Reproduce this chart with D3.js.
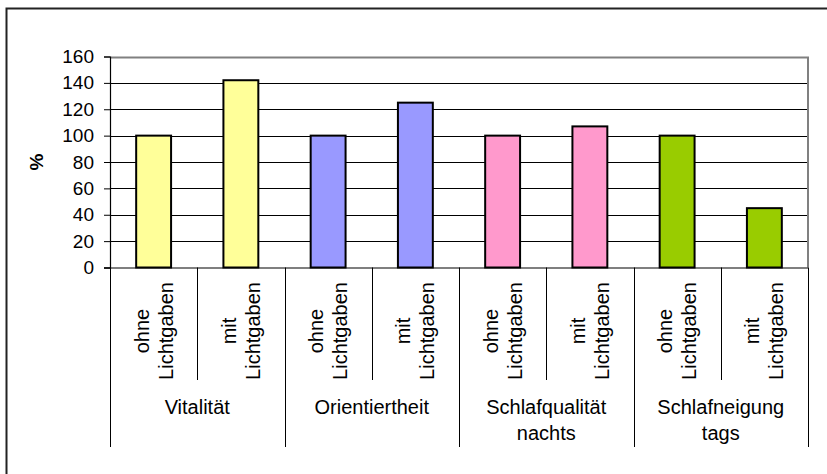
<!DOCTYPE html>
<html>
<head>
<meta charset="utf-8">
<script src="https://cdn.jsdelivr.net/npm/d3@7/dist/d3.min.js"></script>
<style>
  html, body { margin: 0; padding: 0; background: #fff; }
  svg { display: block; font-family: Arial, "Liberation Sans", sans-serif; }
</style>
</head>
<body>
<svg id="chart" width="827" height="474"></svg>
<script>
// ---- data ----
const groups = ["Vitalität", "Orientiertheit", "Schlafqualität\nnachts", "Schlafneigung\ntags"];
const conditions = ["ohne\nLichtgaben", "mit\nLichtgaben"];
const values = [100, 142, 100, 125, 100, 107, 100, 45];
const groupColors = ["#FFFF99", "#9999FF", "#FF99CC", "#99CC00"];
const yTicks = [0, 20, 40, 60, 80, 100, 120, 140, 160];
const yLabel = "%";

// ---- layout ----
const svg = d3.select("#chart");
const plotLeft = 110, plotRight = 808, plotTop = 56.5, plotBottom = 267.5;

const cats = [];
groups.forEach((g, gi) => conditions.forEach((c, ci) => cats.push({ key: gi + "-" + ci, g: gi, c: c })));

const slot = d3.scaleBand().domain(cats.map(d => d.key)).range([plotLeft, plotRight]).padding(0);
const x = d3.scaleBand().domain(cats.map(d => d.key)).range([plotLeft, plotRight]).paddingInner(0.6).paddingOuter(0.3);
const y = d3.scaleLinear().domain([0, 160]).range([plotBottom, plotTop]);

// outer frame (partially visible)
svg.append("path").attr("d", "M6.5,480 V8.5 H830").attr("fill", "none")
  .attr("stroke", "#222").attr("stroke-width", 2);

// gridlines
svg.append("g").selectAll("line").data(yTicks.filter(t => t > 0 && t < 160)).join("line")
  .attr("x1", plotLeft).attr("x2", plotRight)
  .attr("y1", d => Math.round(y(d)) + 0.5).attr("y2", d => Math.round(y(d)) + 0.5)
  .attr("stroke", "#000").attr("stroke-width", 1);

// plot border top/right (gray)
svg.append("path")
  .attr("d", `M${plotLeft},${Math.round(plotTop) + 0.5} H${plotRight} V${plotBottom}`)
  .attr("fill", "none").attr("stroke", "#808080").attr("stroke-width", 2);

// bars
svg.append("g").selectAll("rect").data(cats).join("rect")
  .attr("x", d => x(d.key))
  .attr("width", x.bandwidth())
  .attr("y", (d, i) => y(values[i]))
  .attr("height", (d, i) => y(0) - y(values[i]))
  .attr("fill", d => groupColors[d.g])
  .attr("stroke", "#000").attr("stroke-width", 2);

// y axis
const yAxis = d3.axisLeft(y).tickValues(yTicks).tickSize(6).tickPadding(10);
const ya = svg.append("g").attr("transform", `translate(${plotLeft},0)`).call(yAxis);
ya.select(".domain").attr("stroke", "#000").attr("stroke-width", 1.2);
ya.selectAll(".tick line").attr("stroke", "#000");
ya.selectAll(".tick text").attr("font-size", 19).attr("fill", "#000")
  .attr("font-family", "Arial, 'Liberation Sans', sans-serif");

// x axis line
svg.append("line").attr("x1", plotLeft - 6).attr("x2", plotRight)
  .attr("y1", plotBottom + 0.5).attr("y2", plotBottom + 0.5)
  .attr("stroke", "#000").attr("stroke-width", 1.2);

// dividers
const boundaries = cats.map(d => slot(d.key)).concat([plotRight]);
svg.append("g").selectAll("line").data(boundaries).join("line")
  .attr("x1", d => Math.round(d) + 0.5).attr("x2", d => Math.round(d) + 0.5)
  .attr("y1", plotBottom)
  .attr("y2", (d, i) => (i % 2 === 0) ? 447 : 380)
  .attr("stroke", "#000").attr("stroke-width", 1);

// rotated condition labels
const condG = svg.append("g").attr("font-size", 20).attr("fill", "#000");
cats.forEach(d => {
  const cx = slot(d.key) + slot.bandwidth() / 2;
  const lines = d.c.split("\n");
  const lh = 24;
  const t = condG.append("text")
    .attr("transform", `translate(${cx},331) rotate(-90)`)
    .attr("text-anchor", "middle");
  lines.forEach((ln, li) => {
    t.append("tspan").attr("x", 0)
      .attr("y", (li - (lines.length - 1) / 2) * lh + 7)
      .text(ln);
  });
});

// group labels
const grpG = svg.append("g").attr("font-size", 20).attr("fill", "#000").attr("text-anchor", "middle");
groups.forEach((g, gi) => {
  const x0 = slot(gi + "-0"), x1 = slot(gi + "-1") + slot.bandwidth();
  const t = grpG.append("text");
  g.split("\n").forEach((ln, li) => {
    t.append("tspan").attr("x", (x0 + x1) / 2).attr("y", 414 + li * 26).text(ln);
  });
});

// y label
svg.append("text")
  .attr("transform", `translate(43,${(plotTop + plotBottom) / 2}) rotate(-90)`)
  .attr("text-anchor", "middle")
  .attr("font-size", 19).attr("font-weight", "bold").attr("fill", "#000")
  .text(yLabel);
</script>
</body>
</html>
